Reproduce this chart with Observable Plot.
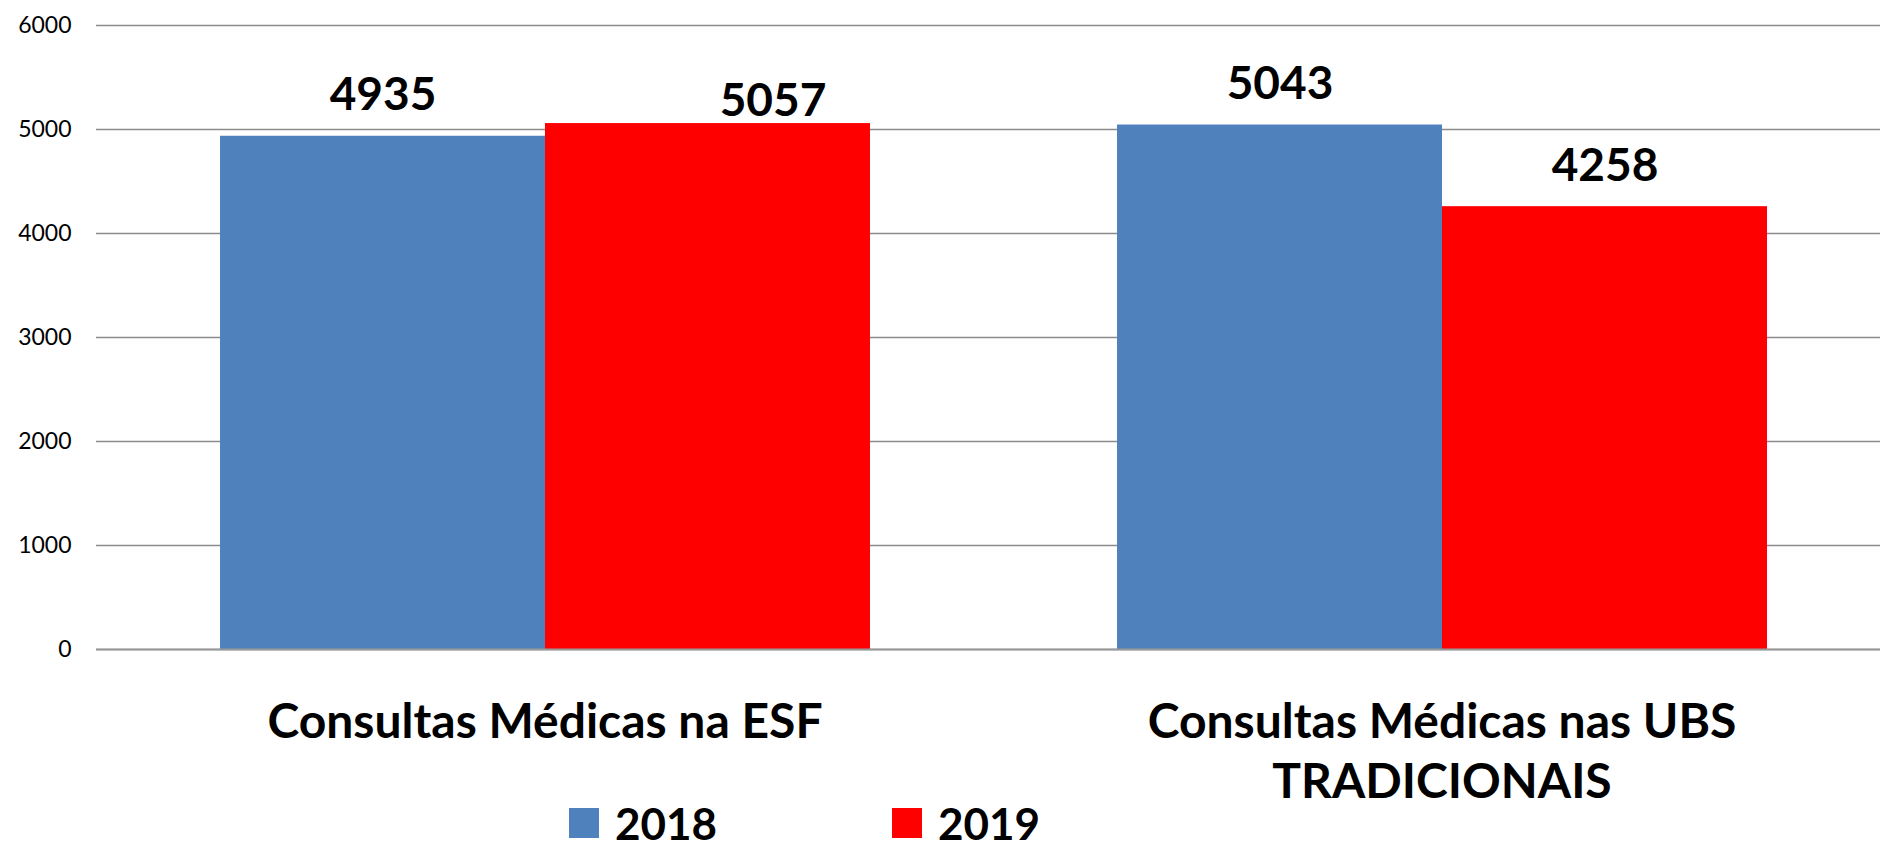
<!DOCTYPE html>
<html>
<head>
<meta charset="utf-8">
<script src="https://cdn.jsdelivr.net/npm/d3@7"></script>
<script src="https://cdn.jsdelivr.net/npm/@observablehq/plot@0.6"></script>
<style>
  html, body { margin: 0; padding: 0; background: #fff; overflow: hidden; width: 1880px; height: 847px; }
  #chart svg { display: block; max-width: none !important; }
  #legend { height: 45px; padding-top: 0; padding-left: 569px; display: flex; align-items: center; font-family: Lato, sans-serif; font-weight: 700; font-size: 44px; line-height: 1; color: #000; }
  .item { display: flex; align-items: center; width: 323px; }
  .sw { width: 30px; height: 30px; margin-right: 16px; }
</style>
</head>
<body>
<div id="chart"></div>
<div id="legend"></div>
<script>
const categories = ["Consultas Médicas na ESF", "Consultas Médicas nas UBS\nTRADICIONAIS"];
const years = ["2018", "2019"];
const values2018 = [4935, 5043];
const values2019 = [5057, 4258];
const yTicks = [0, 1000, 2000, 3000, 4000, 5000, 6000];
const colors = ["#4f81bd", "#ff0000"];

const data = categories.flatMap((c, i) => [
  {category: c, year: years[0], value: values2018[i]},
  {category: c, year: years[1], value: values2019[i]}
]);

// the 2019 label of the first group sits to the right of its bar in the original
const shifted = d => d.category === categories[0] && d.year === years[1];

const chart = Plot.plot({
  width: 1890,
  height: 800,
  marginLeft: 96,
  marginRight: 0,
  marginTop: 25,
  marginBottom: 151,
  style: {fontFamily: "Lato, sans-serif", background: "white", overflow: "visible", maxWidth: "none"},
  fx: {domain: categories, padding: 0, axis: null, label: null},
  x: {domain: years, paddingInner: 0, paddingOuter: 0.376, axis: null},
  y: {domain: [0, 6000], axis: null},
  color: {domain: years, range: colors},
  marks: [
    Plot.gridY(yTicks, {stroke: "#8c8c8c", strokeOpacity: 1, strokeWidth: 1.6}),
    Plot.barY(data, {fx: "category", x: "year", y: "value", fill: "year"}),
    Plot.ruleY([0], {stroke: "#999", strokeWidth: 2.2}),
    Plot.axisY(yTicks, {tickSize: 0, tickPadding: 25, fontSize: 23, fill: "#000", label: null, tickFormat: d => String(d)}),
    Plot.text(data, {filter: d => !shifted(d), fx: "category", x: "year", y: "value", text: d => String(d.value), dy: -26, lineAnchor: "bottom", fontSize: 46, fontWeight: 700, fill: "#000"}),
    Plot.text(data, {filter: shifted, fx: "category", x: "year", y: "value", text: d => String(d.value), dx: 65, dy: -8, lineAnchor: "bottom", fontSize: 46, fontWeight: 700, fill: "#000"}),
    Plot.text(categories, {fx: d => d, text: d => d, frameAnchor: "bottom", lineAnchor: "top", dy: 46, fontSize: 48, fontWeight: 700, lineHeight: 1.25, fill: "#000"})
  ]
});
document.getElementById("chart").appendChild(chart);

const legend = document.getElementById("legend");
years.forEach((y, i) => {
  const item = document.createElement("div");
  item.className = "item";
  const sw = document.createElement("span");
  sw.className = "sw";
  sw.style.background = colors[i];
  const t = document.createElement("span");
  t.textContent = y;
  item.appendChild(sw);
  item.appendChild(t);
  legend.appendChild(item);
});
</script>
</body>
</html>
